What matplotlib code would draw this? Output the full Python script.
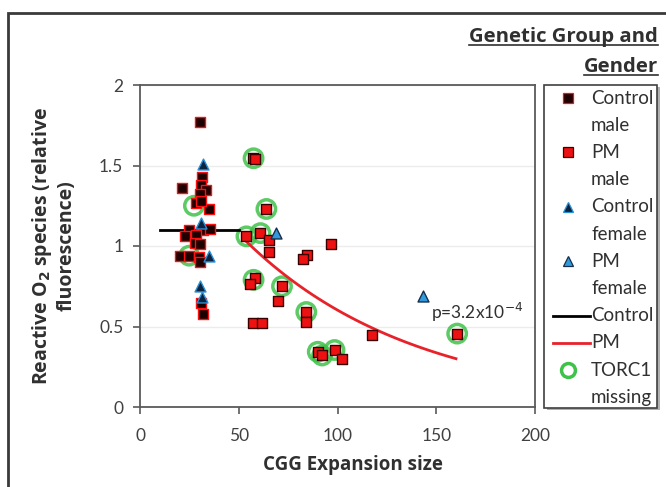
import matplotlib
matplotlib.use("Agg")
import matplotlib.pyplot as plt
from matplotlib.lines import Line2D
from matplotlib.patches import Rectangle
import numpy as np

plt.rcParams['font.family'] = ['Lato', 'DejaVu Sans']
negrita = ['Open Sans', 'DejaVu Sans']

# datos
control_male_x = [30.3, 21.4, 31.2, 30.8, 33.2, 30.3, 28.6, 35.0, 31.0, 24.7, 22.7, 32.0,
                  35.4, 28.6, 27.8, 30.6, 20.2, 24.9, 30.0, 30.5, 31.0, 32.0]
control_male_y = [1.77, 1.36, 1.43, 1.38, 1.35, 1.32, 1.265, 1.23, 1.28, 1.10, 1.06, 1.10,
                  1.105, 1.07, 1.02, 1.01, 0.94, 0.94, 0.93, 0.90, 0.645, 0.58]

pm_male_x = [57.2, 58.0, 64.0, 53.9, 61.0, 65.2, 65.2, 96.8, 84.7, 82.5, 58.1, 55.9,
             71.9, 69.9, 84.2, 84.2, 57.2, 61.9, 117.5, 90.0, 92.2, 98.5, 102.4, 160.6]
pm_male_y = [1.545, 1.54, 1.23, 1.06, 1.08, 1.04, 0.96, 1.01, 0.944, 0.92, 0.80, 0.765,
             0.75, 0.66, 0.59, 0.53, 0.52, 0.52, 0.45, 0.343, 0.32, 0.354, 0.30, 0.456]

control_female_x = [32.0, 31.1, 35.0, 30.6, 31.6]
control_female_y = [1.51, 1.14, 0.94, 0.75, 0.685]

pm_female_x = [68.7, 143.5]
pm_female_y = [1.08, 0.69]

torc1_x = [57.5, 64.0, 53.9, 61.0, 57.5, 71.9, 84.2, 90.0, 92.2, 98.5, 160.6, 27.3, 24.9]
torc1_y = [1.545, 1.23, 1.06, 1.08, 0.79, 0.75, 0.59, 0.343, 0.32, 0.354, 0.456, 1.25, 0.94]

# lineas de tendencia
control_media = 1.10
control_rango = [10, 50]
pm_fit_a, pm_fit_b = 1.92, 0.0116   # y = a*exp(-b*x)
pm_rango = [54, 160]

fig = plt.figure(figsize=(6.66, 4.87), dpi=100)
ax = fig.add_axes([140/666, 80/487, 395/666, 322/487])

# marco exterior
fig.patches.append(Rectangle((8/666, -0.1), 1.2, 1.1 - 13/487, transform=fig.transFigure,
                             fill=False, edgecolor='#3a3a3a', linewidth=2))

ax.set_xlim(0, 200)
ax.set_ylim(0, 2)
ax.set_xticks([0, 50, 100, 150, 200])
ax.set_yticks([0, 0.5, 1, 1.5, 2])
ax.set_yticklabels(['0', '0.5', '1', '1.5', '2'])
ax.yaxis.grid(True, color='#ececec', linewidth=1)
ax.set_axisbelow(True)
for s in ax.spines.values():
    s.set_color('#5a5a5a')
    s.set_linewidth(1.3)
ax.tick_params(labelsize=12.5, colors='#5a5a5a', labelcolor='#404040', length=5, width=1.2, pad=7)
ax.tick_params(axis='x', pad=10)

# TORC1 (circulos verdes)
ax.scatter(torc1_x, torc1_y, s=175, facecolors='none', edgecolors='#3fc24a', linewidths=2.5,
           alpha=0.85, zorder=2)

# lineas
ax.plot(control_rango, [control_media, control_media], color='black', linewidth=2, zorder=3)
xx = np.linspace(pm_rango[0], pm_rango[1], 100)
ax.plot(xx, pm_fit_a * np.exp(-pm_fit_b * xx), color='#e8222a', linewidth=2, zorder=3)

# puntos
ax.scatter(control_male_x, control_male_y, marker='s', s=58, facecolor='#1e0000',
           edgecolor='#ff1010', linewidths=1, zorder=4)
ax.scatter(pm_male_x, pm_male_y, marker='s', s=58, facecolor='#ee1111',
           edgecolor='#3a0000', linewidths=1, zorder=4)
ax.scatter(control_female_x, control_female_y, marker='^', s=62, facecolor='#0c2440',
           edgecolor='#2b8fd4', linewidths=1, zorder=5)
ax.scatter(pm_female_x, pm_female_y, marker='^', s=62, facecolor='#3399dd',
           edgecolor='#16304c', linewidths=1, zorder=5)

ax.text(147.5, 0.59, r'p=3.2x10$^{-4}$', fontsize=12.5, color='#303030', va='center', ha='left')

ax.set_xlabel('CGG Expansion size', fontsize=13.5, fontweight='bold', color='#303030', va='top',
              family=negrita)
ax.xaxis.set_label_coords(0.54, -0.15)
ax.set_ylabel('Reactive O$_\\mathbf{2}$ species (relative\nfluorescence)', fontsize=14,
              fontweight='bold', color='#303030', linespacing=1.2, family=negrita)
ax.yaxis.set_label_coords(-0.16, 0.5)

# leyenda hecha a mano
lx0, lx1, ly0, ly1 = 544, 657, 85, 408
def fx(px):
    return px / 666
def fy(py):
    return 1 - py / 487

fig.patches.append(Rectangle((fx(lx0) + 0.004, fy(ly1) - 0.005), fx(lx1) - fx(lx0), fy(ly0) - fy(ly1),
                             transform=fig.transFigure, facecolor='#b0b0b0', edgecolor='none', zorder=1))
fig.patches.append(Rectangle((fx(lx0), fy(ly1)), fx(lx1) - fx(lx0), fy(ly0) - fy(ly1),
                             transform=fig.transFigure, facecolor='white', edgecolor='#404040',
                             linewidth=1.2, zorder=2))

filas = ['Control', 'male', 'PM', 'male', 'Control', 'female', 'PM', 'female',
         'Control', 'PM', 'TORC1', 'missing']
paso = 27.2
for i, t in enumerate(filas):
    fig.text(fx(591), fy(98 + paso * i), t, fontsize=13.5, color='#303030', va='center', ha='left')

mk = dict(transform=fig.transFigure, zorder=5)
fig.add_artist(Line2D([fx(568)], [fy(98)], marker='s', markersize=7, markerfacecolor='#1e0000',
                      markeredgecolor='#ff1010', markeredgewidth=0.9, **mk))
fig.add_artist(Line2D([fx(568)], [fy(98 + paso * 2)], marker='s', markersize=7,
                      markerfacecolor='#ee1111', markeredgecolor='#3a0000', markeredgewidth=0.9, **mk))
fig.add_artist(Line2D([fx(568)], [fy(98 + paso * 4)], marker='^', markersize=7,
                      markerfacecolor='#0c2440', markeredgecolor='#2b8fd4', markeredgewidth=0.9, **mk))
fig.add_artist(Line2D([fx(568)], [fy(98 + paso * 6)], marker='^', markersize=7,
                      markerfacecolor='#3399dd', markeredgecolor='#16304c', markeredgewidth=0.9, **mk))
fig.add_artist(Line2D([fx(553), fx(590)], [fy(98 + paso * 8)] * 2, color='black', linewidth=2, **mk))
fig.add_artist(Line2D([fx(553), fx(590)], [fy(98 + paso * 9)] * 2, color='#e8222a', linewidth=2, **mk))
fig.add_artist(Line2D([fx(568)], [fy(98 + paso * 10)], marker='o', markersize=10, markerfacecolor='none',
                      markeredgecolor='#3fc24a', markeredgewidth=2.5, **mk))

# titulo de la leyenda, subrayado
t1 = fig.text(fx(658), fy(37), 'Genetic Group and', fontsize=14.7, fontweight='bold',
              color='#303030', ha='right', va='center', family=negrita)
t2 = fig.text(fx(658), fy(67), 'Gender', fontsize=14.7, fontweight='bold',
              color='#303030', ha='right', va='center', family=negrita)
fig.canvas.draw()
r = fig.canvas.get_renderer()
for t in (t1, t2):
    bb = t.get_window_extent(r).transformed(fig.transFigure.inverted())
    fig.add_artist(Line2D([bb.x0, bb.x1], [bb.y0 + 0.004] * 2, color='#303030', linewidth=1.2,
                          transform=fig.transFigure))

plt.savefig('out.png', dpi=100)
